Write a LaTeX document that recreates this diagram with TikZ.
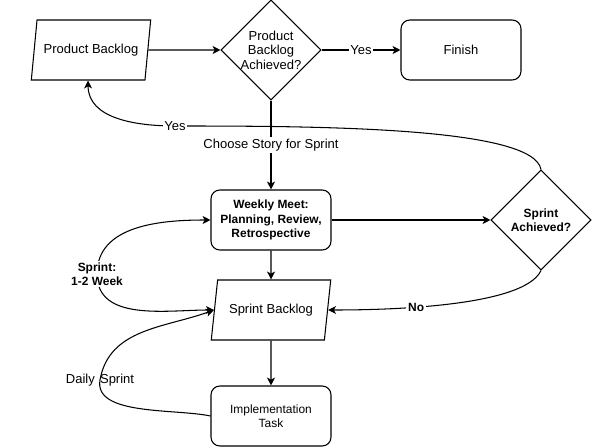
\documentclass[tikz,border=0pt]{standalone}
\usepackage{fontspec}
\setmainfont{Liberation Sans}
\usetikzlibrary{arrows.meta,shapes.geometric}
\tikzset{>={Stealth[length=4.5pt,width=4.5pt,inset=1.2pt]}}
\tikzset{
  base/.style={draw, line width=0.6pt, align=center, font=\fontsize{7.4}{8.2}\selectfont, inner sep=1pt},
  io/.style={base, trapezium, trapezium left angle=71.6, trapezium right angle=108.4,
    trapezium stretches=true, minimum width=2.4cm, minimum height=1.2cm},
  proc/.style={base, rectangle, rounded corners=5pt, minimum width=2.4cm, minimum height=1.2cm},
  decide/.style={base, diamond, aspect=1, minimum width=2cm, minimum height=2cm, inner sep=0pt},
  lbl/.style={fill=white, inner sep=1pt, font=\fontsize{7.4}{8.2}\selectfont, align=center},
  boldtxt/.style={font=\fontsize{6.8}{8.2}\selectfont\bfseries},
  conn/.style={->, line width=0.6pt},
}

\begin{document}
\begin{tikzpicture}[x=0.02cm,y=0.02cm]
\useasboundingbox (0,0) rectangle (592,447);
% top row
\node[io] (pb) at (91,397) {Product Backlog};
\node[decide] (pba) at (271,397) {Product\\Backlog\\Achieved?};
\node[proc] (fin) at (461,397) {Finish};
% sprint loop
\node[proc, boldtxt] (wm) at (271,227) {Weekly Meet:\\Planning, Review,\\Retrospective};
\node[decide, boldtxt] (sa) at (541,227) {Sprint\\Achieved?};
\node[io] (sb) at (271,137) {Sprint Backlog};
\node[proc, font=\fontsize{6.8}{8.2}\selectfont] (it) at (271,31) {Implementation\\Task};
\coordinate (yes) at (175,321);
\coordinate (wk) at (97,173);
\coordinate (ds) at (100,67);

\draw[conn] (pb) -- (pba);
\draw[conn] (pba) -- node[lbl] {Yes} (fin);
\draw[conn] (pba) -- node[lbl] {Choose Story for Sprint} (wm);
\draw[conn] (wm) -- (sa);
\draw[conn] (wm) -- (sb);
\draw[conn] (sb) -- (it);
\draw[conn] (sa.south) to[out=-115,in=0,looseness=0.5] node[lbl,boldtxt,pos=0.6] {No} (sb.right side);
\draw[conn] (sa.north) to[out=100,in=0,out looseness=0.3,in looseness=1] (yes)
  to[out=180,in=-90] (pb.bottom side);
\node[lbl] at (yes) {Yes};
% sprint length
\draw[<->, line width=0.6pt] (sb.left side) to[out=180,in=-90] (wk) to[out=90,in=180] (wm.west);
\node[lbl, boldtxt] at (wk) {Sprint:\\1-2 Week};
% daily loop
\draw[conn] (it.west) to[out=168,in=-100,looseness=0.8] (ds) to[out=80,in=200] (sb.left side);
\node[font=\fontsize{7.4}{8.2}\selectfont, inner sep=1pt] at (ds) {Daily\hspace{3pt}Sprint};
\end{tikzpicture}
\end{document}
